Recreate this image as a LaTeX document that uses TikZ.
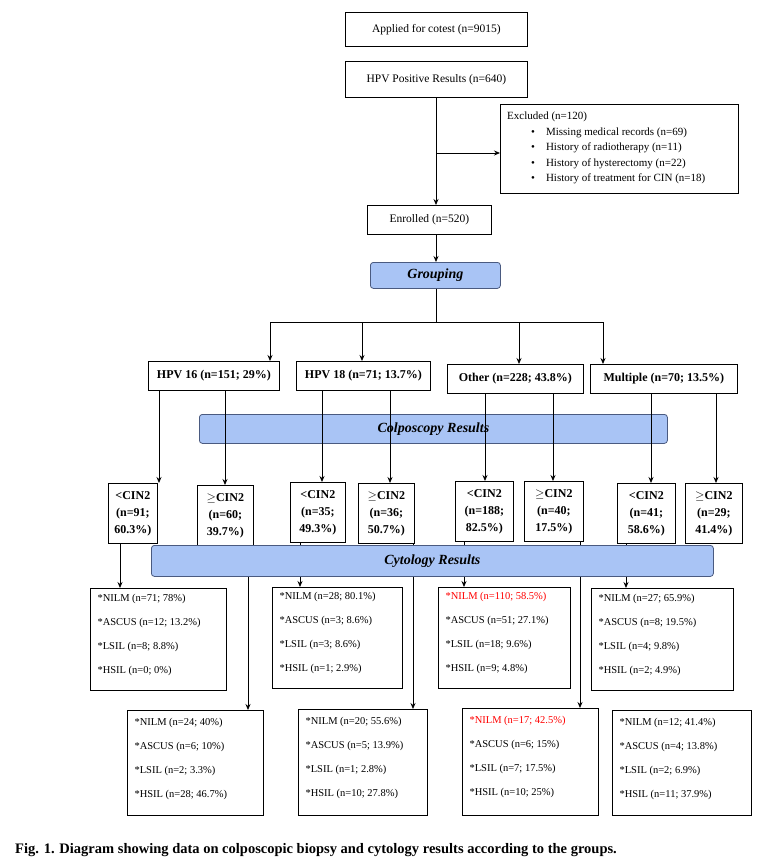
\documentclass[tikz,border=0pt]{standalone}
\usepackage{fontspec}
\setmainfont{Liberation Serif}
\usepackage{amssymb}
\usetikzlibrary{arrows.meta}
\definecolor{barblue}{HTML}{A9C4F5}
\definecolor{barline}{HTML}{4A5A80}
\begin{document}
\begin{tikzpicture}[x=1pt,y=-1pt,
  box/.style={draw,thick,fill=white,inner sep=0pt},
  bar/.style={draw=barline,thick,fill=barblue,rounded corners=3pt},
  ar/.style={thick,-{Stealth[length=6pt,width=5pt]}},
  ln/.style={thick},
  tx/.style={font=\fontsize{11.5}{13}\selectfont},
  gt/.style={font=\fontsize{12}{13}\selectfont\bfseries},
  bt/.style={font=\fontsize{14}{16}\selectfont\bfseries\itshape},
  ct/.style={font=\fontsize{12}{17}\selectfont\bfseries,align=center},
  rt/.style={anchor=north west,align=left,font=\fontsize{10.5}{24}\selectfont}]
\useasboundingbox (0,0) rectangle (771,868);
\newcommand\bx[6]{\node[#1,minimum width=#4-#2,minimum height=#5-#3,anchor=north west] (#6) at (#2,#3) {};}
% top
\bx{box}{345}{12}{527}{46}{app}\node[tx] at (app) {Applied for cotest (n=9015)};
\bx{box}{345}{61}{527}{97}{pos}\node[tx] at (pos) {HPV Positive Results (n=640)};
\bx{box}{500}{104}{738}{193}{exc}
\node[anchor=north west,font=\fontsize{11}{15.5}\selectfont,align=left,inner sep=0pt] (exct) at (507,112) {Excluded (n=120)\\
\hspace*{24pt}\textbullet\hspace{11pt}Missing medical records (n=69)\\
\hspace*{24pt}\textbullet\hspace{11pt}History of radiotherapy (n=11)\\
\hspace*{24pt}\textbullet\hspace{11pt}History of hysterectomy (n=22)\\
\hspace*{24pt}\textbullet\hspace{11pt}History of treatment for CIN (n=18)};
\bx{box}{367}{205}{491}{234}{enr}\node[tx] at (enr) {Enrolled (n=520)};
\bx{bar}{370}{262}{500}{288}{grp}\node[bt] at (grp) {Grouping};
\coordinate (c1) at (436,153);
\draw[ar] (436,0|-pos.south) -- (436,0|-enr.north);
\draw[ar] (c1) -- (exc.west|-c1);
\draw[ar] (436,0|-enr.south) -- (436,0|-grp.north);
\coordinate (hb) at (436,322);
\draw[ln] (436,0|-grp.south) -- (hb);
\draw[ln] (270,322) -- (603,322);
% groups
\bx{box}{148}{361}{279}{390}{g1}\node[gt] at (g1) {HPV 16 (n=151; 29\%)};
\bx{box}{296}{361}{430}{390}{g2}\node[gt] at (g2) {HPV 18 (n=71; 13.7\%)};
\bx{box}{447}{364}{583}{393}{g3}\node[gt] at (g3) {Other (n=228; 43.8\%)};
\bx{box}{590}{364}{737}{393}{g4}\node[gt] at (g4) {Multiple (n=70; 13.5\%)};
\foreach \x/\g in {270/g1,362/g2,519/g3,603/g4}{\draw[ar] (\x,322) -- (\x,0|-\g.north);}
\bx{bar}{199}{414}{667}{443}{col}\node[bt] at (col) {Colposcopy Results};
% CIN boxes
\bx{box}{108}{483}{157}{543}{ca}\node[ct] at (ca) {<CIN2\\(n=91;\\60.3\%)};
\bx{box}{197}{485}{253}{545}{cb}\node[ct] at (cb) {$\geq$CIN2\\(n=60;\\39.7\%)};
\bx{box}{290}{482}{345}{542}{cc}\node[ct] at (cc) {<CIN2\\(n=35;\\49.3\%)};
\bx{box}{358}{483}{414}{543}{cd}\node[ct] at (cd) {$\geq$CIN2\\(n=36;\\50.7\%)};
\bx{box}{455}{481}{513}{541}{ce}\node[ct] at (ce) {<CIN2\\(n=188;\\82.5\%)};
\bx{box}{524}{481}{583}{541}{cf}\node[ct] at (cf) {$\geq$CIN2\\(n=40;\\17.5\%)};
\bx{box}{617}{483}{675}{543}{cg}\node[ct] at (cg) {<CIN2\\(n=41;\\58.6\%)};
\bx{box}{685}{483}{742}{543}{ch}\node[ct] at (ch) {$\geq$CIN2\\(n=29;\\41.4\%)};
\foreach \x/\g/\c in {159/g1/ca,225/g1/cb,322/g2/cc,390/g2/cd,485/g3/ce,553/g3/cf,651/g4/cg,716/g4/ch}{\draw[ar] (\x,0|-\g.south) -- (\x,0|-\c.north);}
% result boxes
\bx{box}{90}{588}{226}{690}{ra}
\bx{box}{272}{587}{402}{688}{rc}
\bx{box}{438}{587}{570}{688}{re}
\bx{box}{591}{588}{733}{690}{rg}
\bx{box}{127}{710}{263}{815}{rb}
\bx{box}{298}{709}{427}{815}{rd}
\bx{box}{462}{708}{598}{815}{rf}
\bx{box}{612}{710}{751}{815}{rh}
\foreach \x/\c/\r in {120/ca/ra,248/cb/rb,300/cc/rc,413/cd/rd,464/ce/re,580/cf/rf,626/cg/rg}{\draw[ar] (\x,0|-\c.south) -- (\x,0|-\r.north);}
\bx{bar}{151}{545}{713}{576}{cyt}\node[bt] at (cyt) {Cytology Results};
\node[rt] (ta) at ([shift={(4,3)}]ra.north west) {*NILM (n=71; 78\%)\\*ASCUS (n=12; 13.2\%)\\*LSIL (n=8; 8.8\%)\\*HSIL (n=0; 0\%)};
\node[rt] (tc) at ([shift={(4,2)}]rc.north west) {*NILM (n=28; 80.1\%)\\*ASCUS (n=3; 8.6\%)\\*LSIL (n=3; 8.6\%)\\*HSIL (n=1; 2.9\%)};
\node[rt] (te) at ([shift={(4,2)}]re.north west) {\textcolor{red}{*NILM (n=110; 58.5\%)}\\*ASCUS (n=51; 27.1\%)\\*LSIL (n=18; 9.6\%)\\*HSIL (n=9; 4.8\%)};
\node[rt] (tg) at ([shift={(4,3)}]rg.north west) {*NILM (n=27; 65.9\%)\\*ASCUS (n=8; 19.5\%)\\*LSIL (n=4; 9.8\%)\\*HSIL (n=2; 4.9\%)};
\node[rt] (tb) at ([shift={(4,5)}]rb.north west) {*NILM (n=24; 40\%)\\*ASCUS (n=6; 10\%)\\*LSIL (n=2; 3.3\%)\\*HSIL (n=28; 46.7\%)};
\node[rt] (td) at ([shift={(4,5)}]rd.north west) {*NILM (n=20; 55.6\%)\\*ASCUS (n=5; 13.9\%)\\*LSIL (n=1; 2.8\%)\\*HSIL (n=10; 27.8\%)};
\node[rt] (tf) at ([shift={(4,5)}]rf.north west) {\textcolor{red}{*NILM (n=17; 42.5\%)}\\*ASCUS (n=6; 15\%)\\*LSIL (n=7; 17.5\%)\\*HSIL (n=10; 25\%)};
\node[rt] (th) at ([shift={(4,5)}]rh.north west) {*NILM (n=12; 41.4\%)\\*ASCUS (n=4; 13.8\%)\\*LSIL (n=2; 6.9\%)\\*HSIL (n=11; 37.9\%)};
\node[anchor=west,inner sep=0pt,font=\fontsize{14.5}{16}\selectfont\bfseries] (cap) at (15,850) {Fig. 1. Diagram showing data on colposcopic biopsy and cytology results according to the groups.};
\end{tikzpicture}
\end{document}
